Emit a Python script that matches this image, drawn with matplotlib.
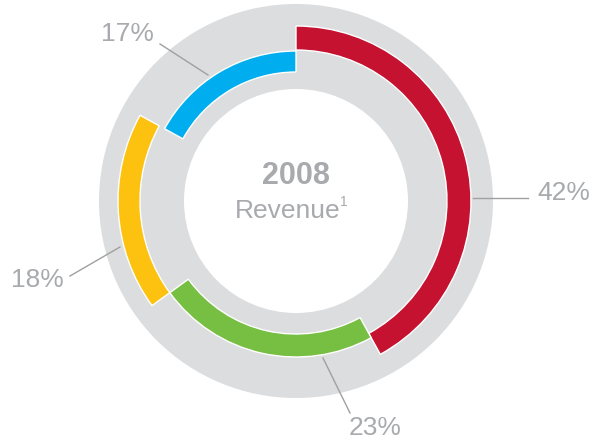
import matplotlib
matplotlib.use("Agg")
import matplotlib.pyplot as plt
import numpy as np
from matplotlib.patches import Wedge, Circle

plt.rcParams["font.family"] = ["Liberation Sans", "DejaVu Sans"]

# revenue split, clockwise from 12 o'clock
shares = [42, 23, 18, 17]
share_labels = ["42%", "23%", "18%", "17%"]
colors = ["#c41230", "#76bf43", "#fdc110", "#00aeef"]

# ring bands (inner, outer radius in px) for each segment
bands = [(151, 175), (133, 156), (156, 178), (129, 150)]

# label anchor: line start on ring, line end, text position
leader = [
    ((473, 198), (528, 198), (564, 193)),
    ((323, 358), (350, 413), (375, 428)),
    ((120, 247), (70, 276), (37, 280)),
    ((208, 75), (160, 44), (127, 34)),
]

W, H = 594, 444
CX, CY = 296, 201
GREY = "#a8aaad"

fig = plt.figure(figsize=(W / 100, H / 100), dpi=100)
ax = fig.add_axes([0, 0, 1, 1])
ax.set_xlim(0, W)
ax.set_ylim(H, 0)
ax.axis("off")

# grey background ring
ax.add_patch(Circle((CX, CY), 197, color="#dcddde", lw=0))
ax.add_patch(Circle((CX, CY), 112, color="white", lw=0))

# y axis is inverted, so positive angles run clockwise on screen
start = -90.0
for share, col, (r0, r1) in zip(shares, colors, bands):
    sweep = share / sum(shares) * 360
    ax.add_patch(Wedge((CX, CY), r1, start, start + sweep, width=r1 - r0,
                       facecolor=col, edgecolor="white", lw=1))
    start += sweep

for lab, (p0, p1, pt) in zip(share_labels, leader):
    ax.plot([p0[0], p1[0]], [p0[1], p1[1]], color="#a0a0a0", lw=1)
    ax.text(pt[0], pt[1], lab, fontsize=19, color=GREY, ha="center", va="center")

ax.text(CX, 176, "2008", fontsize=22, fontweight="bold", color=GREY,
        ha="center", va="center")
ax.text(CX - 8, 218, "Revenue", fontsize=19, color=GREY, ha="center",
        va="baseline")
ax.text(340, 206, "1", fontsize=10, color=GREY, ha="left", va="baseline")

fig.savefig("out.png", dpi=100)
